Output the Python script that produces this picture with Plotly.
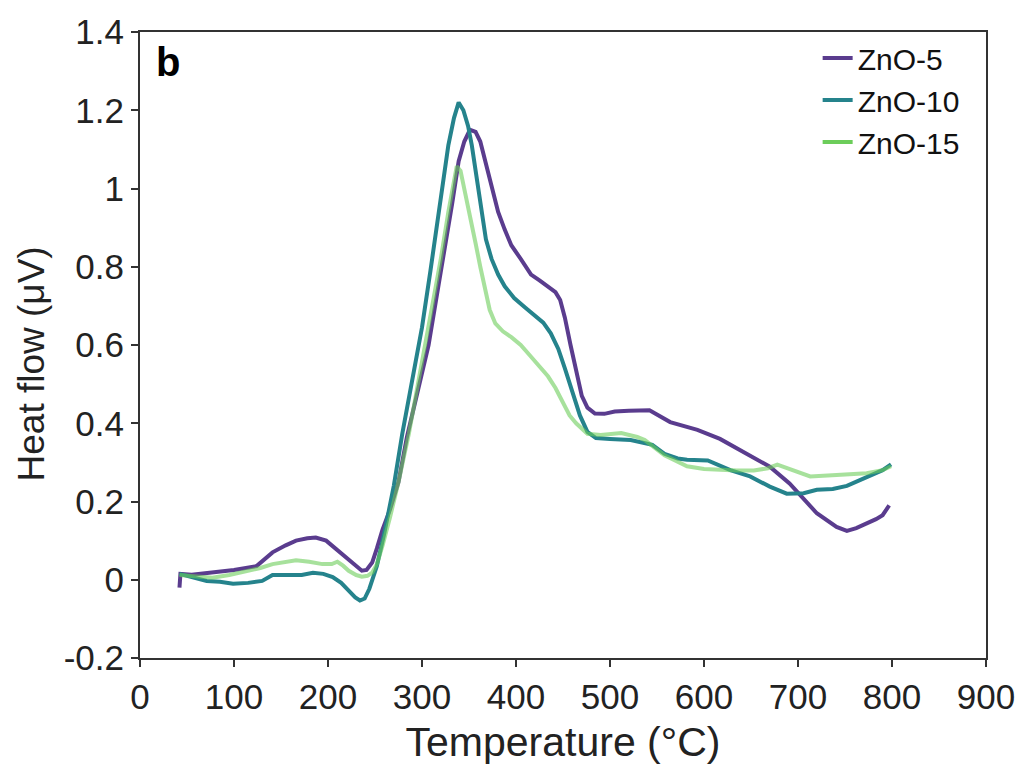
import plotly.graph_objects as go

# ---------------- data ----------------
t5 = [42, 43, 55, 77, 100, 124, 141, 155, 166, 178, 187, 198, 208, 216, 222, 230, 236, 241, 247, 252,
      258, 266, 275, 284, 291, 300, 307, 316, 325, 332, 339, 345, 351, 357, 362, 367, 374, 381, 388, 395,
      405, 416, 425, 434, 442, 447, 452, 458, 464, 470, 476, 484, 494, 505, 520, 529, 542, 564, 593, 617,
      646, 670, 691, 706, 720, 741, 752, 762, 770, 783, 790, 797]
v5 = [-0.02, 0.015, 0.013, 0.018, 0.025, 0.035, 0.07, 0.088, 0.10, 0.106, 0.108, 0.10, 0.08, 0.065, 0.052, 0.035, 0.023, 0.025, 0.044, 0.08,
      0.128, 0.18, 0.25, 0.365, 0.44, 0.53, 0.60, 0.73, 0.855, 0.96, 1.07, 1.12, 1.15, 1.145, 1.12, 1.07, 1.0, 0.94, 0.895, 0.855,
      0.82, 0.78, 0.765, 0.75, 0.735, 0.715, 0.67, 0.60, 0.53, 0.47, 0.44, 0.425, 0.424, 0.43, 0.432, 0.433, 0.433, 0.403, 0.383, 0.36,
      0.322, 0.289, 0.246, 0.205, 0.17, 0.135, 0.125, 0.132, 0.14, 0.155, 0.165, 0.19]

t10 = [42, 50, 60, 71, 85, 99, 115, 130, 141, 150, 159, 172, 184, 195, 205, 214, 222, 229, 234, 239,
       244, 252, 260, 270, 279, 290, 300, 309, 318, 328, 334, 339, 344, 349, 353, 358, 363, 368, 374, 381,
       388, 398, 410, 420, 429, 437, 445, 452, 460, 468, 476, 485, 500, 522, 545, 558, 572, 582, 604, 628,
       649, 670, 688, 706, 720, 737, 752, 773, 790, 799]
v10 = [0.015, 0.01, 0.005, -0.003, -0.005, -0.01, -0.008, -0.003, 0.012, 0.012, 0.01, 0.012, 0.018, 0.015, 0.007, -0.008, -0.028, -0.045, -0.053, -0.048,
       -0.023, 0.035, 0.12, 0.24, 0.373, 0.51, 0.645, 0.79, 0.94, 1.11, 1.18, 1.22, 1.20, 1.16, 1.11, 1.03, 0.94, 0.87, 0.82, 0.78,
       0.75, 0.72, 0.695, 0.675, 0.657, 0.63, 0.59, 0.54, 0.48, 0.42, 0.378, 0.362, 0.36, 0.357, 0.345, 0.322, 0.31, 0.307, 0.305, 0.28,
       0.264, 0.238, 0.22, 0.221, 0.23, 0.232, 0.24, 0.262, 0.28, 0.295]

t15 = [42, 55, 77, 95, 113, 128, 141, 155, 166, 180, 194, 204, 210, 216, 222, 230, 236, 242, 247, 252,
       258, 266, 275, 286, 298, 310, 320, 328, 334, 337, 341, 346, 352, 357, 362, 367, 372, 378, 386, 395,
       405, 416, 425, 434, 442, 450, 457, 464, 470, 476, 490, 512, 529, 537, 558, 582, 600, 617, 635, 653,
       668, 678, 695, 713, 741, 773, 790, 799]
v15 = [0.012, 0.01, 0.005, 0.012, 0.022, 0.03, 0.04, 0.045, 0.05, 0.046, 0.04, 0.04, 0.046, 0.036, 0.023, 0.012, 0.008, 0.01, 0.018, 0.04,
       0.087, 0.16, 0.25, 0.373, 0.53, 0.687, 0.82, 0.94, 1.02, 1.057, 1.045, 0.99, 0.92, 0.86, 0.80, 0.74, 0.69, 0.655, 0.635, 0.62,
       0.60, 0.57, 0.545, 0.52, 0.49, 0.45, 0.42, 0.40, 0.385, 0.373, 0.37, 0.375, 0.365, 0.357, 0.318, 0.29, 0.283, 0.28, 0.279, 0.279,
       0.285, 0.294, 0.28, 0.264, 0.268, 0.272, 0.28, 0.29]

names = ["ZnO-5", "ZnO-10", "ZnO-15"]
x_ticks = [0, 100, 200, 300, 400, 500, 600, 700, 800, 900]
y_ticks = [-0.2, 0, 0.2, 0.4, 0.6, 0.8, 1.0, 1.2, 1.4]
y_tick_text = ["-0.2", "0", "0.2", "0.4", "0.6", "0.8", "1", "1.2", "1.4"]

# ---------------- styling ----------------
c5 = "#5a3c8e"
c10 = "#25838c"
c15 = "#6ccd5a"
c15_line = "rgba(108,205,90,0.6)"
FONT = "Liberation Sans, Arial, sans-serif"
axis_col = "#333333"
txt_col = "#222222"

fig = go.Figure()
fig.add_trace(go.Scatter(x=t5, y=v5, mode="lines", name=names[0],
                         line=dict(color=c5, width=4)))
fig.add_trace(go.Scatter(x=t10, y=v10, mode="lines", name=names[1],
                         line=dict(color=c10, width=4)))
fig.add_trace(go.Scatter(x=t15, y=v15, mode="lines", name=names[2], showlegend=False,
                         line=dict(color=c15_line, width=4)))
# legend entry for ZnO-15 drawn in the full-strength colour
fig.add_trace(go.Scatter(x=[None], y=[None], mode="lines", name=names[2],
                         line=dict(color=c15, width=4)))

fig.update_layout(
    width=1027, height=769,
    margin=dict(l=140, r=37, t=32, b=106),
    paper_bgcolor="white", plot_bgcolor="white",
    font=dict(family=FONT, color=txt_col, size=35),
    showlegend=True,
    legend=dict(x=0.801, y=1.0, xanchor="left", yanchor="top",
                bgcolor="rgba(0,0,0,0)", font=dict(size=30, family=FONT, color="#111111"),
                tracegroupgap=0, itemwidth=30),
    annotations=[
        dict(text="<b>b</b>", x=0.017, y=0.99, xref="paper", yref="paper",
             xanchor="left", yanchor="top", showarrow=False,
             font=dict(size=40, family=FONT, color="black")),
        dict(text="Heat flow (μV)", x=-0.128, y=0.47, xref="paper", yref="paper",
             xanchor="center", yanchor="middle", textangle=-90, showarrow=False,
             font=dict(size=37, family=FONT, color=txt_col)),
    ],
)
fig.update_xaxes(range=[0, 900], tickvals=x_ticks, ticks="outside", ticklen=7, tickwidth=2,
                 tickcolor=axis_col, showline=True, linecolor=axis_col, linewidth=2, mirror=True,
                 showgrid=False, zeroline=False,
                 tickfont=dict(size=35, family=FONT, color=txt_col),
                 title=dict(text="Temperature (°C)", font=dict(size=41, family=FONT, color=txt_col), standoff=12))
fig.update_yaxes(range=[-0.2, 1.4], tickvals=y_ticks, ticktext=y_tick_text, ticks="outside", ticklen=7,
                 tickwidth=2, tickcolor=axis_col, showline=True, linecolor=axis_col, linewidth=2, mirror=True,
                 showgrid=False, zeroline=False,
                 tickfont=dict(size=35, family=FONT, color=txt_col))

fig.write_html("out.html")
